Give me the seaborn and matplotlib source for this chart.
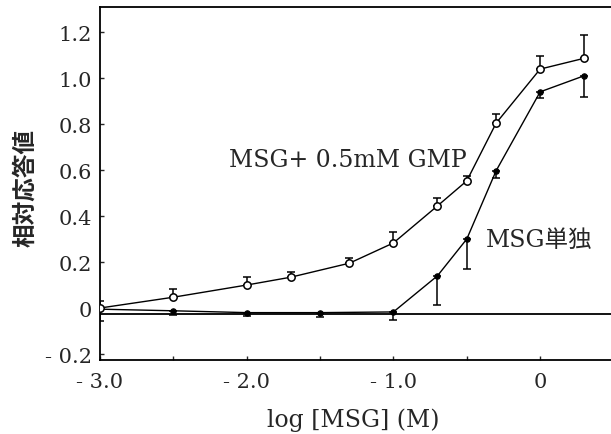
import numpy as np
import pandas as pd
import matplotlib
matplotlib.use("Agg")
import matplotlib.pyplot as plt
import seaborn as sns

# log[MSG] (M) concentrations
log_msg_gmp = [-3.0, -2.5, -2.0, -1.7, -1.3, -1.0, -0.7, -0.5, -0.3, 0.0, 0.3]
log_msg_only = [-3.0, -2.5, -2.0, -1.5, -1.0, -0.7, -0.5, -0.3, 0.0, 0.3]

# relative response, MSG + 0.5mM GMP (open circles), error bars upward
resp_gmp = [0.0, 0.047, 0.10, 0.134, 0.195, 0.283, 0.444, 0.553, 0.804, 1.039, 1.086]
err_gmp = [0.03, 0.036, 0.035, 0.023, 0.022, 0.047, 0.034, 0.02, 0.039, 0.057, 0.101]

# relative response, MSG alone (filled circles), error bars downward
resp_only = [-0.005, -0.012, -0.02, -0.02, -0.017, 0.14, 0.30, 0.597, 0.94, 1.01]
err_only = [0.05, 0.02, 0.015, 0.02, 0.035, 0.127, 0.13, 0.03, 0.028, 0.094]

baseline = -0.026

df_gmp = pd.DataFrame({"x": log_msg_gmp, "y": resp_gmp})
df_only = pd.DataFrame({"x": log_msg_only, "y": resp_only})

sns.set_style("ticks")
plt.rcParams["font.family"] = ["DejaVu Serif", "Noto Sans CJK JP"]

fig = plt.figure(figsize=(6.11, 4.35), dpi=100)
ax = fig.add_axes([100 / 611, 74 / 435, 511 / 611, 353 / 435])

# curves
sns.lineplot(data=df_gmp, x="x", y="y", ax=ax, color="black", lw=1.0, zorder=2)
sns.lineplot(data=df_only, x="x", y="y", ax=ax, color="black", lw=1.0, zorder=2)
ax.axhline(baseline, color="black", lw=1.3, zorder=1)

# error bars (one-sided)
ax.errorbar(log_msg_gmp, resp_gmp, yerr=[np.zeros(len(err_gmp)), err_gmp],
            fmt="none", ecolor="black", elinewidth=1.1, capsize=3, capthick=1.1, zorder=3)
ax.errorbar(log_msg_only, resp_only, yerr=[err_only, np.zeros(len(err_only))],
            fmt="none", ecolor="black", elinewidth=1.1, capsize=3, capthick=1.1, zorder=3)

# markers
sns.scatterplot(data=df_only, x="x", y="y", ax=ax, color="black", s=15,
                edgecolor="black", linewidth=0.8, zorder=4)
sns.scatterplot(data=df_gmp, x="x", y="y", ax=ax, facecolor="white", s=28,
                edgecolor="black", linewidth=1.1, zorder=5)

ax.text(-0.50, 0.645, "MSG+ 0.5mM GMP", ha="right", va="center", fontsize=17)
ax.text(-0.37, 0.30, "MSG単独", ha="left", va="center", fontsize=17)

ax.set_xlim(-3.0, 0.483)
ax.set_ylim(-0.226, 1.309)

ax.set_xticks([-3.0, -2.0, -1.0, 0.0])
ax.set_xticklabels(["- 3.0", "- 2.0", "- 1.0", "0"])
ax.set_xticks([-2.5, -1.5, -0.5], minor=True)
yt = [-0.2, 0.0, 0.2, 0.4, 0.6, 0.8, 1.0, 1.2]
ax.set_yticks(yt)
ax.set_yticklabels(["- 0.2", "0", "0.2", "0.4", "0.6", "0.8", "1.0", "1.2"])
ax.tick_params(axis="both", which="both", direction="in", length=3, width=1,
               labelsize=15)
ax.tick_params(axis="x", pad=9)
ax.tick_params(axis="y", pad=6)

ax.set_xlabel("log [MSG] (M)", fontsize=17)
ax.set_ylabel("相対応答値", fontsize=17, family=["Noto Sans CJK JP"], fontweight="bold")
ax.xaxis.set_label_coords(0.495, -0.135)
ax.yaxis.set_label_coords(-0.123, 0.49)

for s in ["top", "left", "bottom"]:
    ax.spines[s].set_linewidth(1.3)
    ax.spines[s].set_color("black")
ax.spines["right"].set_visible(False)

fig.savefig("out.png", dpi=100)
